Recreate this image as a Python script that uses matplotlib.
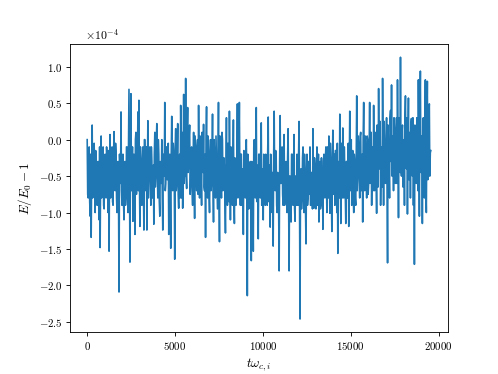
import numpy as np
import matplotlib
matplotlib.use("Agg")
import matplotlib.pyplot as plt

plt.rcParams['font.family'] = 'serif'
plt.rcParams['font.serif'] = ['cmr10', 'DejaVu Serif']
plt.rcParams['mathtext.fontset'] = 'cm'
plt.rcParams['axes.formatter.use_mathtext'] = True

# energy error, in units of 1e-4 (spikes)
energy_err = [
    0.0, -0.8, -0.1, -1.05, -1.34, 0.2, -0.7, -0.05, -1.0, -0.2,
    -0.9, -0.3, -1.1, -1.48, 0.05, -0.6, -0.1, -0.95, -0.2, -0.8,
    -0.3, -1.0, -1.53, 0.07, -0.5, -0.1, -0.9, 0.11, -0.7, -0.2,
    -1.0, -0.3, -2.09, -0.4, 0.38, -0.9, -0.2, -1.1, -0.3, -0.8,
    -0.1, -1.0, 0.69, -1.68, 0.63, -0.5, -1.12, -0.2, -1.30, 0.1,
    -0.6, 0.38, 0.54, -1.19, -0.3, -0.9, -0.1, -1.24, 0.0, -0.7,
    -1.24, 0.26, -0.5, -0.1, -0.9, -0.3, -0.7, -1.16, 0.1, -0.5,
    0.22, -0.8, -0.2, -1.05, -0.4, 0.0, -1.24, -0.3, 0.51, -0.6,
    -0.1, -0.5, -1.30, -0.2, -1.49, 0.32, -0.7, -0.2, -1.64, 0.15,
    -0.6, 0.22, -0.94, -0.2, 0.47, -0.8, -0.94, 0.62, -0.3, 0.84,
    -0.67, 0.44, -0.3, 0.2, -0.6, -0.1, -0.9, 0.1, -1.08, -0.2,
    -0.7, 0.0, 0.47, -0.8, -0.2, -0.9, -0.3, 0.21, -0.7, -1.34,
    0.45, -0.8, -0.3, -1.0, 0.0, -0.6, 0.35, -1.13, -0.2, -0.8,
    -0.3, -0.95, 0.51, -1.40, -0.2, -0.8, 0.0, -0.6, -0.4, -1.28,
    0.3, -0.9, -0.3, 0.39, -1.1, -0.4, -0.9, 0.27, -1.15, -0.3,
    -0.5, 0.49, -0.6, 0.51, -0.9, -0.2, -0.7, -1.30, -0.3, -0.8,
    0.0, -2.14, -0.5, -0.9, -0.3, -1.66, -0.4, -1.53, 0.0, -0.8,
    0.44, -0.6, -1.36, -0.2, -0.8, 0.23, -0.7, -1.10, -0.3, -0.9,
    -0.4, -0.9, 0.31, -0.5, -1.2, -0.3, -1.0, -1.46, 0.39, -0.7,
    -0.2, -1.0, -0.5, -1.80, 0.33, -0.6, -0.1, -0.9, 0.07, -0.8,
    -0.3, -1.0, 0.15, -1.80, -0.5, -1.13, -0.2, -0.9, 0.07, -1.12,
    -0.5, -0.2, -0.9, 0.25, -2.46, -0.4, -0.8, -0.1, -1.0, -0.5,
    -1.43, -0.2, -0.8, -0.5, -0.1, -0.9, -0.6, 0.15, -0.94, -0.4,
    -0.95, -0.1, -0.7, -1.13, -0.3, -0.9, -0.6, -1.23, -0.2, -0.8,
    -0.1, -1.0, -0.4, 0.05, -1.01, -0.3, -1.26, 0.13, -0.5, -0.9,
    -0.15, -1.0, -1.56, -0.3, 0.35, -1.15, -0.2, 0.16, -0.8, -0.4,
    -1.15, -0.3, -0.8, -1.19, 0.39, -0.5, -0.9, -0.15, -1.0, -0.3,
    -0.9, 0.60, -0.5, -0.1, -0.8, 0.1, -0.6, -1.13, 0.51, -0.7,
    -0.2, -0.8, 0.0, -0.6, 0.51, -0.3, -0.9, -0.1, 0.47, -0.7,
    -0.2, -1.01, -0.3, 0.70, -0.4, -0.9, -0.1, 0.84, -0.90, -0.2,
    -0.6, 0.3, -1.69, -0.2, -0.8, 0.4, 0.75, -0.3, -0.7, 0.1,
    -0.6, 0.3, 0.82, -1.07, -0.2, 1.13, -0.5, 0.2, -0.6, -0.9,
    0.60, -0.4, -1.02, 0.57, -0.3, -0.8, 0.29, -0.5, -0.9, -1.71,
    0.1, -0.6, -0.2, 0.82, -1.05, 0.94, -0.4, -1.15, 0.3, -0.8,
    0.82, -1.0, 0.80, -0.5, 0.49, -0.18,
]

# in-band samples between the spikes, in units of 1e-4
energy_err_band = [
    -0.75, -0.35, -0.85, -0.2, -0.45, -0.8, -0.2, -0.6, -0.15, -0.7,
    -0.4, -0.85, -0.1, -0.5, -0.8, -0.3, -0.9, -0.45, -0.75, -0.1,
    -0.6, -0.15, -0.3, -0.8, -0.35, -0.85, -0.2, -0.55, -0.05, -0.8,
    -0.35, -0.8, -0.2, -0.6, -0.7, -0.25, -0.85, -0.4, -0.9, -0.1,
    -0.5, -0.1, -0.6, -0.35, -0.7, -0.1, -0.3, -0.6, 0.0, -0.75,
    -0.3, -0.7, -0.5, -0.1, -0.85, -0.35, -0.6, 0.0, -0.45, -0.1,
    -0.4, -0.8, -0.2, -0.55, -0.1, -0.8, -0.35, -0.2, -0.65, 0.0,
    -0.45, 0.0, -0.85, -0.3, -0.6, -0.8, -0.2, -0.5, -0.7, -0.1,
    -0.55, -0.05, -0.4, -0.9, -0.2, -0.6, -0.05, -0.45, -0.1, -0.7,
    -0.2, -0.75, -0.3, -0.8, -0.4, 0.1, -0.35, -0.6, -0.5, -0.5,
    0.1, -0.45, 0.05, -0.75, -0.2, -0.7, -0.3, -0.5, 0.05, -0.4,
    -0.1, -0.75, -0.35, 0.05, -0.5, 0.1, -0.45, -0.65, -0.2, 0.0,
    -0.5, 0.05, -0.75, -0.2, -0.7, -0.25, -0.6, 0.0, -0.45, 0.05,
    -0.6, -0.2, -0.65, 0.05, -0.45, 0.1, -0.7, -0.25, -0.8, -0.3,
    -0.55, -0.05, -0.85, -0.4, -0.1, -0.6, -0.3, -0.8, -0.25, -0.9,
    -0.3, -0.8, -0.15, -0.55, -0.2, -0.9, -0.4, -0.15, -0.65, -0.2,
    -0.6, -0.2, -0.95, -0.4, -0.9, -0.3, -0.7, -0.1, -0.55, -0.15,
    -0.85, -0.35, -0.2, -0.7, -0.15, -0.9, -0.4, -0.2, -0.6, -0.2,
    -0.7, -0.15, -0.85, -0.35, -0.2, -0.95, -0.45, -0.2, -0.6, -0.15,
    -0.9, -0.45, -0.95, -0.3, -0.6, -0.2, -0.75, -0.25, -0.9, -0.5,
    -0.7, -0.25, -0.9, -0.5, -0.95, -0.2, -0.65, -0.35, -0.95, -0.5,
    -0.9, -0.6, -0.25, -0.85, -0.45, -0.95, -0.25, -0.7, -0.2, -0.95,
    -0.5, -0.9, -0.3, -0.75, -0.9, -0.45, -0.95, -0.6, -0.25, -0.7,
    -0.4, -0.9, -0.2, -0.55, -0.95, -0.25, -0.45, -0.3, -0.7, -0.25,
    -0.6, -0.1, -0.8, -0.45, -0.05, -0.8, -0.35, -0.75, -0.2, -0.15,
    -0.55, -0.05, -0.35, -0.8, -0.5, -0.05, -0.8, -0.4, -0.1, -0.75,
    -0.3, -0.8, -0.05, -0.45, -0.7, 0.0, -0.35, -0.75, -0.2, -0.8,
    -0.25, -0.7, 0.05, -0.5, 0.05, -0.7, -0.2, 0.05, -0.4, 0.05,
    -0.5, 0.05, -0.75, -0.15, -0.6, 0.1, -0.3, -0.7, -0.35, 0.1,
    -0.5, 0.2, -0.65, -0.2, 0.25, -0.35, -0.65, -0.1, 0.25, -0.45,
    0.0, -0.65, 0.2, -0.45, 0.3, -0.3, -0.5, 0.05, 0.3, -0.4,
    0.05, -0.6, -0.2, 0.3, -0.45, -0.4, 0.1, -0.65, 0.0, 0.3,
    -0.35, 0.3, 0.0, -0.55, 0.1, 0.2, -0.45, 0.3, -0.1, 0.2,
    -0.4, 0.3, -0.7, -0.2, 0.35, -0.45, 0.05, 0.25, -0.6, 0.1,
    -0.6, 0.15, -0.55, 0.35, -0.5, -0.15,
]
t_start = 0.0
t_end = 19560.0

vals = np.column_stack([energy_err, energy_err_band]).ravel()
t = np.linspace(t_start, t_end, len(vals))
y = vals * 1e-4

fig = plt.figure(figsize=(498 / 78, 374 / 78), dpi=78)
ax = fig.add_axes([0.1406, 0.112, 0.759, 0.770])
ax.plot(t, y, color='#1f77b4', linewidth=1.5)
ax.set_xticks([0, 5000, 10000, 15000, 20000])
ax.ticklabel_format(axis='y', style='sci', scilimits=(0, 0))
ax.yaxis.get_offset_text().set_fontsize(11)
ax.yaxis.get_offset_text().set_x(0.04)
ax.set_xlabel(r'$t\omega_{c,i}$', fontsize=12)
ax.set_ylabel(r'$E/E_0 - 1$', fontsize=12)
fig.savefig('out.png', dpi=78)
